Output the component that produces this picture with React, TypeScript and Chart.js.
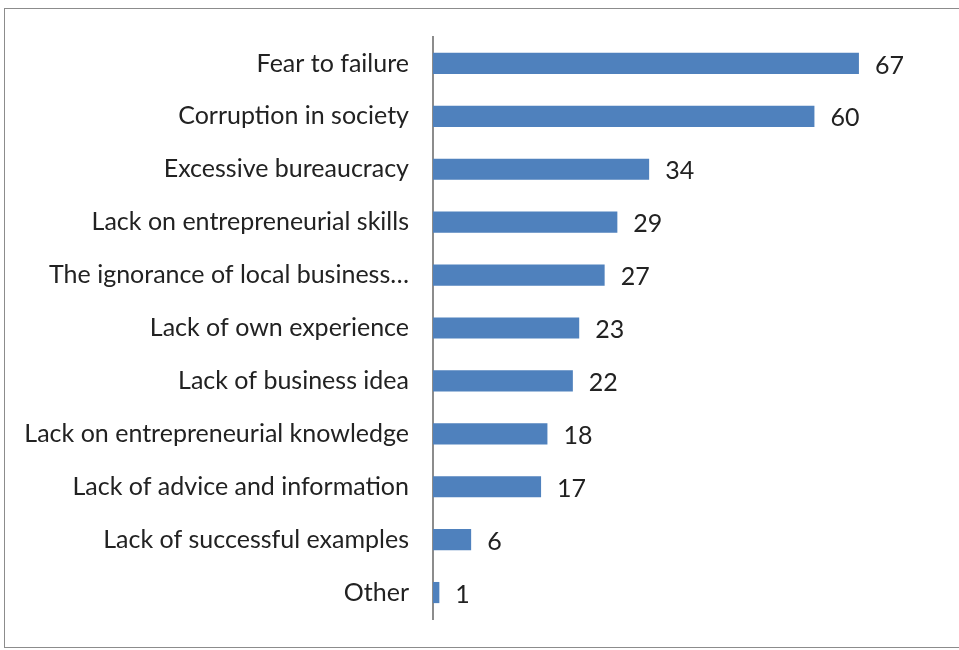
import React, { useEffect, useRef } from "react";
import { Chart, registerables } from "chart.js";

Chart.register(...registerables);

const categories = [
  "Fear to failure",
  "Corruption in society",
  "Excessive bureaucracy",
  "Lack on entrepreneurial skills",
  "The ignorance of local business…",
  "Lack of own experience",
  "Lack of business idea",
  "Lack on entrepreneurial knowledge",
  "Lack of advice and information",
  "Lack of successful examples",
  "Other",
];
const values = [67, 60, 34, 29, 27, 23, 22, 18, 17, 6, 1];

const FONT = "Lato";

const valueLabels = {
  id: "valueLabels",
  afterDatasetsDraw(chart: any) {
    const ctx = chart.ctx;
    const meta = chart.getDatasetMeta(0);
    ctx.save();
    ctx.fillStyle = "#222222";
    ctx.font = `25px ${FONT}`;
    ctx.textAlign = "left";
    ctx.textBaseline = "middle";
    meta.data.forEach((bar: any, i: number) => {
      ctx.fillText(String(values[i]), bar.x + 16, bar.y + 2);
    });
    ctx.restore();
  },
};

export default function App() {
  const ref = useRef<HTMLCanvasElement>(null);
  useEffect(() => {
    if (!ref.current) return;
    const chart = new Chart(ref.current, {
      type: "bar",
      data: {
        labels: categories,
        datasets: [
          {
            data: values,
            backgroundColor: "#4f81bd",
            borderWidth: 0,
            barPercentage: 0.4,
            categoryPercentage: 1,
          },
        ],
      },
      options: {
        indexAxis: "y",
        animation: false,
        responsive: false,
        maintainAspectRatio: false,
        layout: { padding: { top: 37, bottom: 31, left: 0, right: 81 } },
        plugins: { legend: { display: false }, tooltip: { enabled: false } },
        scales: {
          x: { display: false, min: 0, max: 70 },
          y: {
            afterFit(scale: any) {
              scale.width = 433;
              scale.paddingTop = 0;
              scale.paddingBottom = 0;
            },
            grid: { display: false, drawTicks: false },
            border: { display: true, color: "#8c8c8c", width: 2 },
            ticks: {
              color: "#222222",
              padding: 24,
              font: { family: FONT, size: 25 },
            },
          },
        },
      },
      plugins: [valueLabels],
    });
    return () => chart.destroy();
  }, []);
  return (
    <div style={{ position: "fixed", left: 0, top: 0, width: 959, height: 650, background: "#fff" }}>
      <div
        style={{
          position: "absolute",
          left: 4,
          top: 8,
          width: 960,
          height: 638,
          border: "1.5px solid #8c8c8c",
        }}
      />
      <canvas ref={ref} width={959} height={650} style={{ position: "absolute", left: 0, top: 0 }} />
    </div>
  );
}
